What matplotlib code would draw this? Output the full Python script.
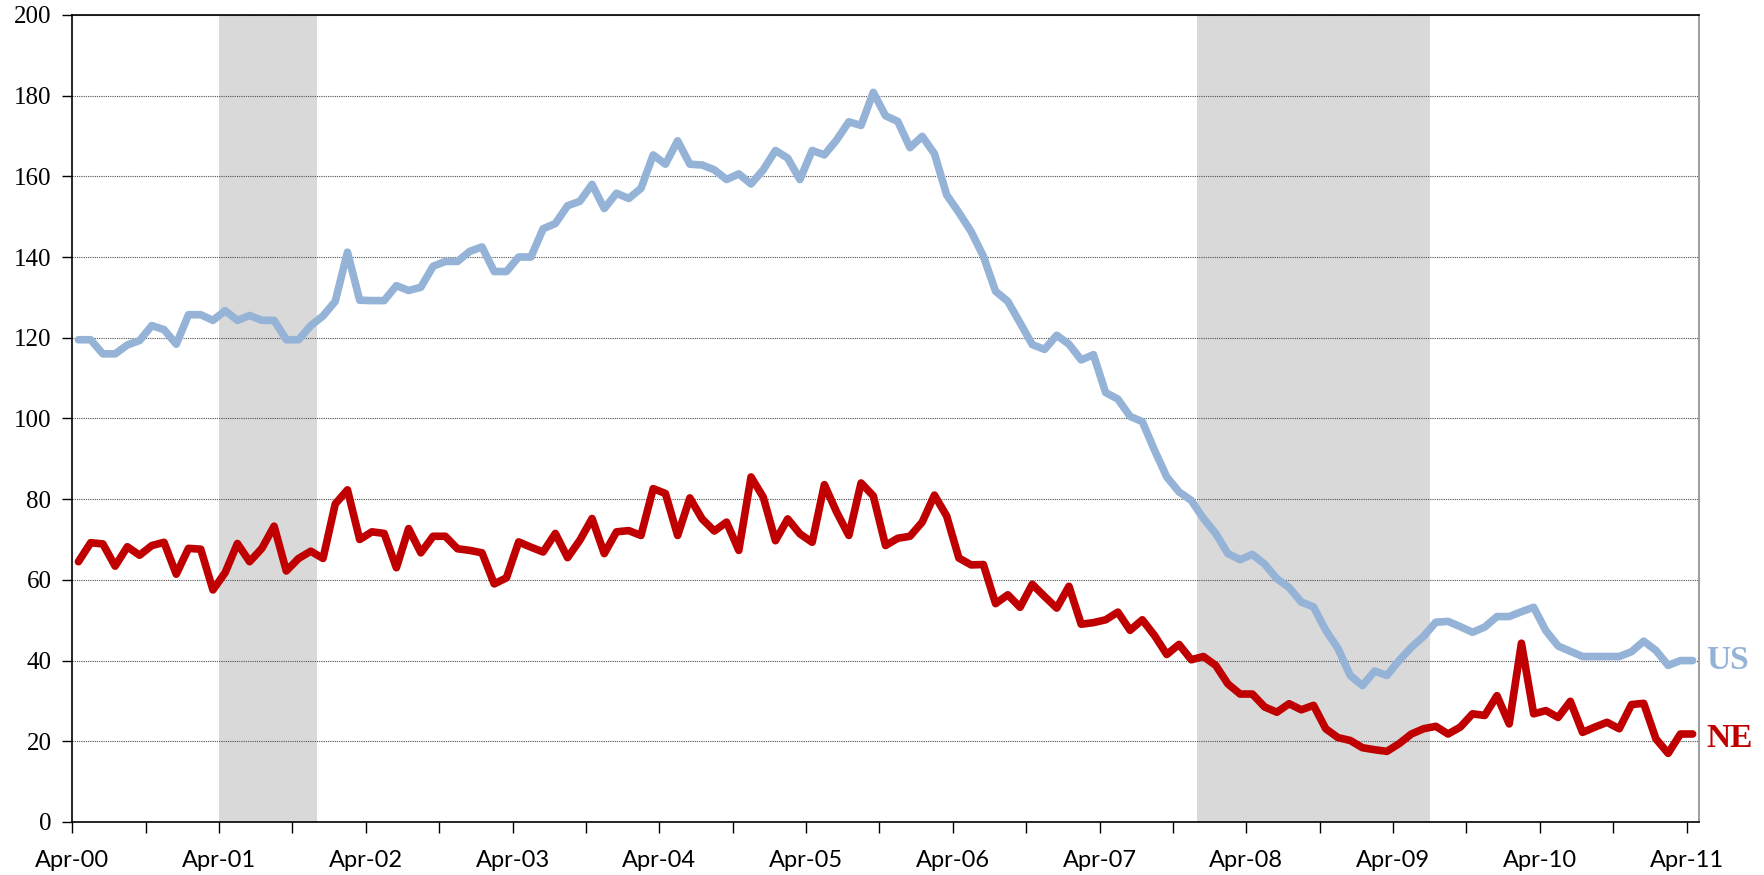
import numpy as np
import matplotlib
matplotlib.use("Agg")
import matplotlib.pyplot as plt

### DATA ###

# monthly series, Apr-00 .. Apr-11
us_vals = [
    119.5, 119.5, 116.0, 116.0, 118.2, 119.3, 123.0, 122.0, 118.4, 125.7, 125.7, 124.3,
    126.7, 124.3, 125.5, 124.3, 124.3, 119.5, 119.5, 123.0, 125.4, 129.0, 141.2, 129.3,
    129.2, 129.2, 132.9, 131.7, 132.5, 137.7, 138.9, 138.9, 141.4, 142.5, 136.4, 136.4,
    140.0, 140.0, 147.0, 148.3, 152.7, 153.8, 158.0,
    152.0, 155.8, 154.5, 157.0, 165.3, 163.0, 168.8, 163.0, 162.8, 161.6, 159.2, 160.6,
    158.1, 161.6, 166.4, 164.5, 159.2, 166.4, 165.3, 169.0, 173.5, 172.6, 180.8, 175.0, 173.6,
    167.1, 169.9, 165.6, 155.4, 151.0, 146.3, 140.2, 131.5, 129.0, 123.7, 118.3, 117.1,
    120.6, 118.4, 114.5, 115.8,
    106.4, 104.8, 100.5, 99.2, 92.1, 85.5, 81.8, 79.7, 75.2, 71.5, 66.5, 65.0,
    66.3, 63.9, 60.3, 58.1, 54.5, 53.3, 47.5, 43.0, 36.3, 33.8, 37.4, 36.3,
    40.0, 43.3, 46.0, 49.5, 49.7, 48.4, 47.0, 48.3, 50.9, 50.9, 52.1, 53.2,
    47.4, 43.6, 42.3, 41.0, 41.0, 41.0, 41.0, 42.2, 44.8, 42.5, 38.8, 40.0, 40.0,
]

ne_vals = [
    64.5, 69.2, 68.9, 63.4, 68.2, 66.1, 68.5, 69.3, 61.4, 67.8, 67.6, 57.5,
    61.8, 69.0, 64.5, 67.8, 73.3, 62.2, 65.3, 67.1, 65.3, 78.8, 82.3, 70.0,
    71.9, 71.5, 63.0, 72.7, 66.7, 70.8, 70.8, 67.7, 67.3, 66.7, 59.0, 60.5,
    69.4, 68.1, 66.9, 71.5, 65.5, 69.8, 75.2, 66.5, 71.9, 72.2,
    71.0, 82.6, 81.4, 71.0, 80.3, 75.1, 72.1, 74.3, 67.3, 85.5, 80.5, 69.7,
    75.1, 71.4, 69.3, 83.6, 76.8, 71.0, 84.0, 80.8, 68.5, 70.3,
    70.8, 74.3, 81.0, 75.8, 65.4, 63.7, 63.8, 54.1, 56.3, 53.2, 58.9, 55.9,
    53.0, 58.4, 49.0, 49.4,
    50.1, 52.0, 47.5, 50.1, 46.2, 41.5, 44.0, 40.2, 41.0, 38.8, 34.2, 31.7,
    31.7, 28.5, 27.2, 29.3, 27.8, 28.9, 23.1, 20.9, 20.2, 18.4, 17.9, 17.5,
    19.4, 21.8, 23.1, 23.7, 21.8, 23.5, 26.8, 26.4, 31.3, 24.3, 44.3, 26.8,
    27.6, 25.9, 29.9, 22.2, 23.5, 24.7, 23.1, 29.1, 29.4, 20.6, 17.0, 21.8, 21.8,
]

year_labels = ["Apr-00", "Apr-01", "Apr-02", "Apr-03", "Apr-04", "Apr-05",
               "Apr-06", "Apr-07", "Apr-08", "Apr-09", "Apr-10", "Apr-11"]

# recessions, in months since Apr-00
recessions = [(12, 20), (92, 111)]

### PLOT ###

us_color = "#95B3D7"
ne_color = "#C00000"

n = len(us_vals)
x = np.arange(n) + 0.5   # points sit between tick marks

fig = plt.figure(figsize=(17.64, 8.75), dpi=100)
ax = fig.add_axes([0.041, 0.0606, 0.922, 0.9224])

for start, end in recessions:
    ax.axvspan(start, end, color="#D9D9D9", lw=0, zorder=0.5)

ax.plot(x, us_vals, color=us_color, lw=5.5, solid_joinstyle="round",
        solid_capstyle="round", zorder=3)
ax.plot(x, ne_vals, color=ne_color, lw=5.5, solid_joinstyle="round",
        solid_capstyle="round", zorder=3)

ax.set_xlim(0, n)
ax.set_ylim(0, 200)

# y axis
ax.set_yticks(np.arange(0, 201, 20))
ax.set_yticklabels([str(v) for v in range(0, 201, 20)],
                   fontfamily="Liberation Serif", fontsize=18)
ax.set_axisbelow("line")
ax.yaxis.grid(True, color="#505050", lw=0.8, linestyle=(0, (1, 1)))

# x axis: tick every 6 months, label every year
xt = np.arange(0, n + 1, 6)
ax.set_xticks(xt)
ax.set_xticklabels([year_labels[int(t) // 12] if t % 12 == 0 else "" for t in xt],
                   fontfamily="Lato", fontsize=17)
ax.tick_params(axis="x", length=8, width=1, pad=12)
ax.tick_params(axis="y", length=7, width=1, pad=8)

for side in ["left", "bottom", "top"]:
    ax.spines[side].set_color("black")
    ax.spines[side].set_linewidth(1.2)
ax.spines["right"].set_color("#8C8C8C")
ax.spines["right"].set_linewidth(1.2)

# series labels at the right end
ax.text(n + 0.6, us_vals[-1], "US", color=us_color, fontsize=24, fontweight="bold",
        fontfamily="Liberation Serif", va="center", ha="left", clip_on=False)
ax.text(n + 0.6, ne_vals[-1] - 1, "NE", color=ne_color, fontsize=24, fontweight="bold",
        fontfamily="Liberation Serif", va="center", ha="left", clip_on=False)

fig.savefig("out.png", dpi=100)
